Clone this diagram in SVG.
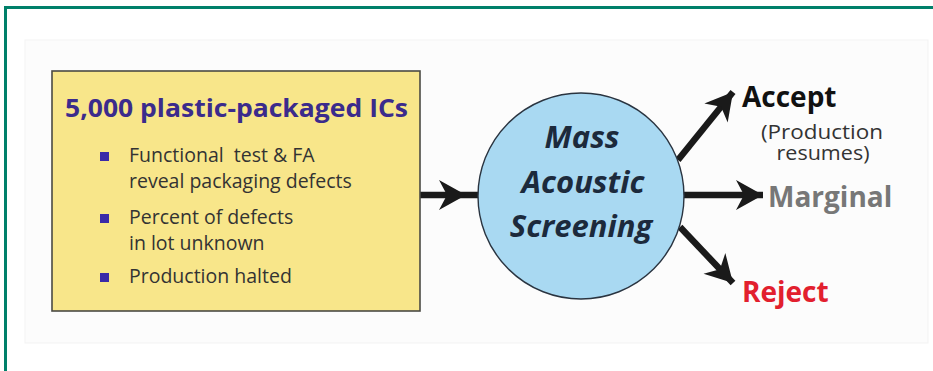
<svg xmlns="http://www.w3.org/2000/svg" width="933" height="371" viewBox="0 0 933 371">
<defs>
<marker id="ah" markerUnits="userSpaceOnUse" markerWidth="40" markerHeight="40" viewBox="-30 -20 40 40" refX="0" refY="0" orient="auto">
<path d="M0,0 L-27,-15 L-19,0 L-27,15 Z" fill="#1a1a1a"/>
</marker>
<style>
.frame{fill:none;stroke:#00806a;stroke-width:3}
.box{fill:#f8e68a;stroke:#4a4a44;stroke-width:1.6}
.circ{fill:#a9d9f2;stroke:#2a3440;stroke-width:1.4}
.title{font-family:"Open Sans","Liberation Sans",sans-serif;font-weight:bold;font-size:25px;fill:#3b2b8c}
.bt{font-family:"Open Sans","Liberation Sans",sans-serif;font-size:19.5px;fill:#333}
.bul{fill:#3a2aa8}
.ct{font-family:"Open Sans","Liberation Sans",sans-serif;font-weight:bold;font-style:italic;font-size:31px;fill:#1c2a3c;text-anchor:middle}
.lab{font-family:"Open Sans","Liberation Sans",sans-serif;font-weight:bold;font-size:28px}
.sub{font-family:"Open Sans","Liberation Sans",sans-serif;font-size:20px;fill:#333;text-anchor:middle}
.conn{fill:none;stroke:#1a1a1a;stroke-width:6.5}
</style>
</defs>
<rect x="0" y="0" width="933" height="371" fill="#fff"/>
<path class="frame" d="M5.5,371 L5.5,7.5 L933,7.5"/>
<rect x="25" y="40" width="903" height="303" fill="#fcfcfc" stroke="#f3f3f3" stroke-width="1"/>
<g id="connectors">
<path class="conn" d="M420,195 L466,195 L480,195" marker-mid="url(#ah)"/>
<line class="conn" x1="678" y1="160" x2="733" y2="92" marker-end="url(#ah)"/>
<line class="conn" x1="683" y1="195" x2="763" y2="195" marker-end="url(#ah)"/>
<line class="conn" x1="680" y1="227" x2="733" y2="283" marker-end="url(#ah)"/>
</g>
<g id="input-box">
<rect class="box" x="52" y="71" width="368" height="240"/>
<text class="title" x="65" y="117" textLength="343" lengthAdjust="spacingAndGlyphs">5,000 plastic-packaged ICs</text>
<rect class="bul" x="100" y="152" width="9" height="9"/>
<text class="bt" x="129" y="162" xml:space="preserve">Functional  test &amp; FA</text>
<text class="bt" x="129" y="188">reveal packaging defects</text>
<rect class="bul" x="100" y="214" width="9" height="9"/>
<text class="bt" x="129" y="224">Percent of defects</text>
<text class="bt" x="129" y="250">in lot unknown</text>
<rect class="bul" x="100" y="273" width="9" height="9"/>
<text class="bt" x="129" y="283">Production halted</text>
</g>
<g id="screening">
<circle class="circ" cx="581" cy="196" r="103"/>
<text class="ct" x="582" y="148">Mass</text>
<text class="ct" x="583" y="193">Acoustic</text>
<text class="ct" x="581" y="237">Screening</text>
</g>
<g id="accept">
<text class="lab" x="742" y="107" fill="#111">Accept</text>
<text class="sub" x="822" y="139" textLength="122" lengthAdjust="spacingAndGlyphs">(Production</text>
<text class="sub" x="823" y="160" textLength="93" lengthAdjust="spacingAndGlyphs">resumes)</text>
</g>
<g id="marginal">
<text class="lab" x="768" y="207" fill="#777">Marginal</text>
</g>
<g id="reject">
<text class="lab" x="742" y="302" fill="#e2202e">Reject</text>
</g>
</svg>
